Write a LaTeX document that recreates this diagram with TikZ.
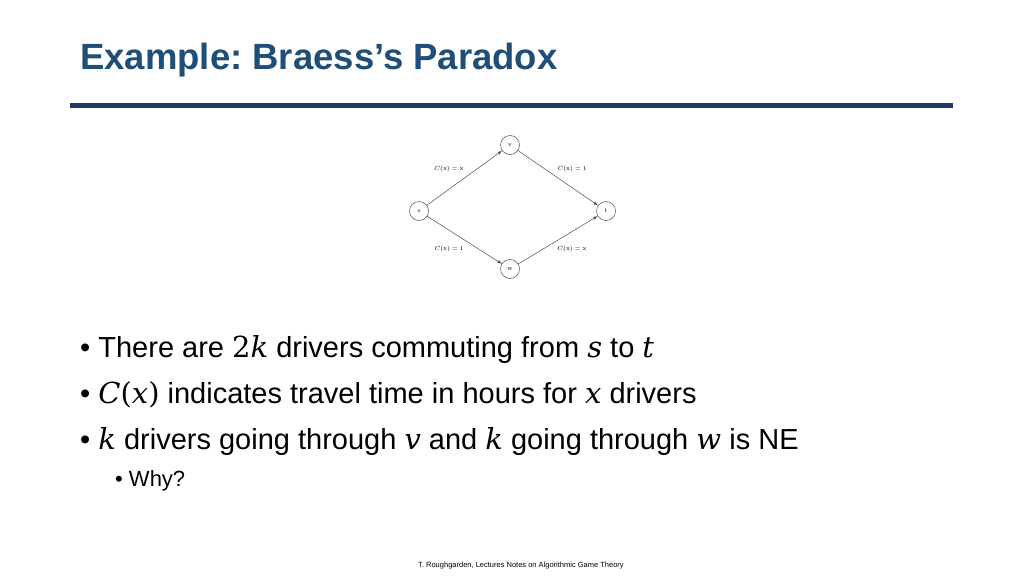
\documentclass[tikz,border=0pt]{standalone}
\usepackage{fontspec}
\setsansfont{Liberation Sans}
\newfontfamily\arialf{Liberation Sans}
\newfontfamily\mathf{DejaVu Serif}
\newcommand{\mv}[1]{{\mathf\itshape #1}}
\definecolor{titleblue}{HTML}{1F4E79}
\definecolor{rulenavy}{HTML}{1F3864}
\frenchspacing
\begin{document}
\begin{tikzpicture}[x=1pt,y=-1pt,
  vtx/.style={circle,draw=black!70,line width=0.5pt,minimum size=19pt,inner sep=0pt,font=\fontsize{6}{7}\selectfont},
  edge/.style={draw=black!70,line width=0.5pt,-latex},
  elab/.style={font=\fontsize{6.5}{7}\selectfont},
  txt/.style={anchor=west,font=\arialf\fontsize{29}{34}\selectfont,inner sep=0pt}]
\useasboundingbox (0,0) rectangle (1024,576);
\node[anchor=west,inner sep=0pt,text=titleblue,font=\arialf\bfseries\fontsize{36.5}{42}\selectfont] (title) at (80,60) {Example: Braess’s Paradox};
\draw[rulenavy,line width=5pt] (70,105) -- (953,105);
\node[vtx] (s) at (419,211) {s};
\node[vtx] (v) at (510,145) {v};
\node[vtx] (t) at (606,211) {t};
\node[vtx] (w) at (510,269) {w};
\draw[edge] (s) -- (v);
\draw[edge] (v) -- (t);
\draw[edge] (s) -- (w);
\draw[edge] (w) -- (t);
\node[elab] (l1) at (449,169) {$C(\mathrm{x})=\mathrm{x}$};
\node[elab] (l2) at (572,169) {$C(\mathrm{x})=1$};
\node[elab] (l3) at (449,249) {$C(\mathrm{x})=1$};
\node[elab] (l4) at (572,249) {$C(\mathrm{x})=\mathrm{x}$};
\node[txt] (b1) at (80,349) {• There are {\mathf 2}\mv{k} drivers commuting from \mv{s} to \mv{t}};
\node[txt] (b2) at (80,395) {• \mv{C}{\mathf(}\mv{x}{\mathf)} indicates travel time in hours for \mv{x} drivers};
\node[txt] (b3) at (80,441) {• \mv{k} drivers going through \mv{v} and \mv{k} going through \mv{w} is NE};
\node[anchor=west,inner sep=0pt,font=\arialf\fontsize{22}{26}\selectfont] (b4) at (115,481) {• Why?};
\node[inner sep=0pt,font=\arialf\fontsize{7.5}{9}\selectfont] (foot) at (521,566) {T. Roughgarden, Lectures Notes on Algorithmic Game Theory};
\end{tikzpicture}
\end{document}
